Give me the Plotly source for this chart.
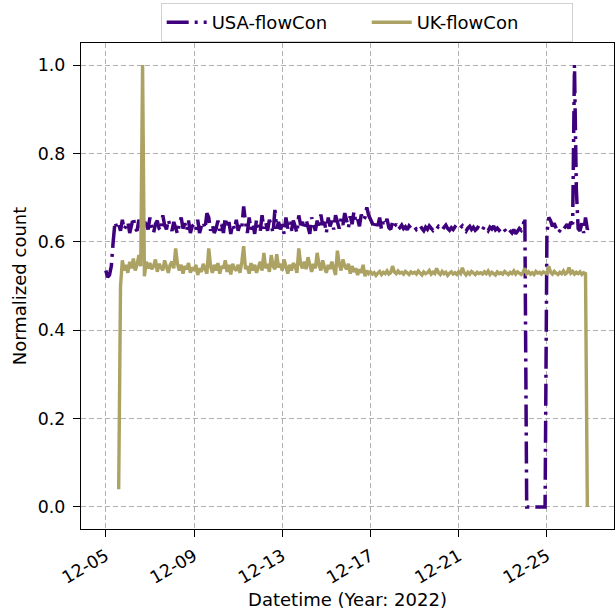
import plotly.graph_objects as go
import pandas as pd

# 2-hourly samples, Dec 5 00:00 .. Dec 26 22:00 (12 values per day)
usa_by_day = {
    "12-05": [0.535, 0.52, 0.525, 0.545, 0.60, 0.645, 0.632, 0.64, 0.625, 0.65, 0.628, 0.638],
    "12-06": [0.645, 0.62, 0.64, 0.655, 0.63, 0.625, 0.65, 0.635, 0.622, 0.645, 0.64, 0.628],
    "12-07": [0.655, 0.632, 0.62, 0.64, 0.648, 0.63, 0.625, 0.66, 0.638, 0.628, 0.65, 0.635],
    "12-08": [0.625, 0.645, 0.632, 0.618, 0.64, 0.655, 0.63, 0.642, 0.625, 0.648, 0.62, 0.635],
    "12-09": [0.64, 0.628, 0.65, 0.62, 0.635, 0.645, 0.63, 0.665, 0.655, 0.625, 0.638, 0.62],
    "12-10": [0.63, 0.648, 0.625, 0.64, 0.62, 0.655, 0.632, 0.645, 0.618, 0.64, 0.628, 0.65],
    "12-11": [0.625, 0.64, 0.632, 0.68, 0.645, 0.62, 0.655, 0.628, 0.642, 0.618, 0.65, 0.635],
    "12-12": [0.622, 0.66, 0.63, 0.645, 0.625, 0.65, 0.638, 0.62, 0.672, 0.63, 0.645, 0.628],
    "12-13": [0.64, 0.618, 0.655, 0.63, 0.645, 0.625, 0.648, 0.635, 0.62, 0.66, 0.638, 0.645],
    "12-14": [0.628, 0.65, 0.632, 0.618, 0.655, 0.64, 0.625, 0.648, 0.63, 0.662, 0.638, 0.645],
    "12-15": [0.62, 0.655, 0.635, 0.648, 0.628, 0.66, 0.642, 0.63, 0.652, 0.638, 0.665, 0.645],
    "12-16": [0.632, 0.658, 0.64, 0.668, 0.645, 0.652, 0.635, 0.662, 0.648, 0.655, 0.678, 0.66],
    "12-17": [0.652, 0.642, 0.63, 0.648, 0.636, 0.655, 0.628, 0.645, 0.638, 0.652, 0.632, 0.628],
    "12-18": [0.645, 0.635, 0.64, 0.628, 0.632, 0.638, 0.63, 0.634, 0.627, 0.636, 0.631, 0.629],
    "12-19": [0.634, 0.628, 0.632, 0.637, 0.63, 0.625, 0.633, 0.628, 0.636, 0.63, 0.626, 0.632],
    "12-20": [0.629, 0.635, 0.631, 0.627, 0.633, 0.638, 0.63, 0.626, 0.632, 0.628, 0.634, 0.63],
    "12-21": [0.627, 0.632, 0.636, 0.629, 0.624, 0.631, 0.635, 0.628, 0.633, 0.626, 0.63, 0.637],
    "12-22": [0.632, 0.628, 0.635, 0.63, 0.625, 0.633, 0.629, 0.636, 0.627, 0.631, 0.626, 0.63],
    "12-23": [0.634, 0.627, 0.623, 0.63, 0.626, 0.62, 0.628, 0.618, 0.624, 0.63, 0.626, 0.636],
    "12-24": [0.655, 0.0, 0.0, 0.0, 0.0, 0.0, 0.0, 0.0, 0.0, 0.0, 0.0, 0.0],
    "12-25": [0.62, 0.655, 0.648, 0.635, 0.642, 0.628, 0.62, 0.625, 0.632, 0.628, 0.636, 0.64],
    "12-26": [0.63, 0.645, 0.64, 1.0, 0.72, 0.63, 0.625, 0.642, 0.62, 0.655, 0.628, 0.635],
}

uk_by_day = {
    "12-05": [None, None, None, None, None, None, None, 0.04, 0.50, 0.558, 0.535, 0.548],
    "12-06": [0.53, 0.555, 0.54, 0.562, 0.535, 0.548, 0.57, 0.545, 1.0, 0.522, 0.555, 0.54],
    "12-07": [0.552, 0.538, 0.545, 0.56, 0.532, 0.55, 0.542, 0.535, 0.558, 0.545, 0.53, 0.548],
    "12-08": [0.555, 0.54, 0.585, 0.55, 0.535, 0.548, 0.528, 0.545, 0.538, 0.552, 0.53, 0.542],
    "12-09": [0.535, 0.548, 0.525, 0.54, 0.532, 0.55, 0.538, 0.528, 0.585, 0.545, 0.53, 0.548],
    "12-10": [0.535, 0.552, 0.528, 0.545, 0.54, 0.558, 0.532, 0.548, 0.526, 0.55, 0.54, 0.535],
    "12-11": [0.548, 0.53, 0.555, 0.59, 0.538, 0.545, 0.528, 0.552, 0.535, 0.548, 0.53, 0.545],
    "12-12": [0.555, 0.535, 0.575, 0.54, 0.55, 0.532, 0.57, 0.545, 0.538, 0.572, 0.542, 0.55],
    "12-13": [0.535, 0.56, 0.54, 0.528, 0.548, 0.535, 0.552, 0.545, 0.53, 0.585, 0.55, 0.54],
    "12-14": [0.555, 0.538, 0.565, 0.545, 0.532, 0.55, 0.54, 0.575, 0.548, 0.535, 0.558, 0.542],
    "12-15": [0.53, 0.548, 0.538, 0.555, 0.542, 0.525, 0.58, 0.55, 0.535, 0.56, 0.545, 0.538],
    "12-16": [0.55, 0.528, 0.545, 0.532, 0.54, 0.525, 0.538, 0.53, 0.548, 0.522, 0.535, 0.528],
    "12-17": [0.532, 0.527, 0.53, 0.524, 0.529, 0.533, 0.526, 0.531, 0.528, 0.534, 0.527, 0.53],
    "12-18": [0.545, 0.532, 0.528, 0.534, 0.529, 0.531, 0.527, 0.533, 0.53, 0.526, 0.532, 0.529],
    "12-19": [0.531, 0.527, 0.534, 0.529, 0.525, 0.532, 0.528, 0.53, 0.535, 0.527, 0.531, 0.528],
    "12-20": [0.54, 0.53, 0.526, 0.533, 0.528, 0.531, 0.524, 0.529, 0.532, 0.527, 0.53, 0.526],
    "12-21": [0.532, 0.528, 0.541, 0.53, 0.525, 0.531, 0.527, 0.533, 0.529, 0.526, 0.531, 0.528],
    "12-22": [0.53, 0.527, 0.532, 0.528, 0.534, 0.526, 0.531, 0.529, 0.525, 0.532, 0.528, 0.53],
    "12-23": [0.527, 0.533, 0.529, 0.526, 0.531, 0.528, 0.534, 0.527, 0.532, 0.529, 0.526, 0.531],
    "12-24": [0.54, 0.528, 0.532, 0.527, 0.53, 0.526, 0.533, 0.529, 0.531, 0.527, 0.532, 0.53],
    "12-25": [0.528, 0.545, 0.531, 0.527, 0.533, 0.529, 0.526, 0.531, 0.528, 0.534, 0.527, 0.53],
    "12-26": [0.542, 0.529, 0.533, 0.527, 0.531, 0.528, 0.532, 0.526, 0.53, 0.528, 0.0, None],
}

x_tick_vals = ["2022-12-05", "2022-12-09", "2022-12-13", "2022-12-17", "2022-12-21", "2022-12-25"]
x_tick_text = ["12-05", "12-09", "12-13", "12-17", "12-21", "12-25"]
y_tick_vals = [0.0, 0.2, 0.4, 0.6, 0.8, 1.0]

usa = [v for d in usa_by_day.values() for v in d]
uk = [v for d in uk_by_day.values() for v in d]
times = pd.date_range("2022-12-05 00:00", periods=len(usa), freq="2h")

USA_COLOR = "#3f007d"
UK_COLOR = "#aca263"

fig = go.Figure()
fig.add_trace(go.Scatter(x=times, y=usa, mode="lines", name="USA-flowCon",
                         line=dict(color=USA_COLOR, width=3.5, dash="22px,6px,3px,6px")))
fig.add_trace(go.Scatter(x=times, y=uk, mode="lines", name="UK-flowCon",
                         line=dict(color=UK_COLOR, width=3.4), connectgaps=False))

axis_common = dict(
    showline=True, linecolor="black", linewidth=1.3, mirror=True,
    ticks="outside", ticklen=7, tickwidth=1.3, tickcolor="black",
    showgrid=True, gridcolor="#b0b0b0", gridwidth=1, griddash="5px,3px",
    zeroline=False, automargin=False,
    tickfont=dict(family="DejaVu Sans", size=17.4, color="black"),
)

fig.update_layout(
    width=615, height=614,
    margin=dict(l=81, r=1, t=43, b=85, autoexpand=False),
    paper_bgcolor="white", plot_bgcolor="white",
    font=dict(family="DejaVu Sans", color="black"),
    showlegend=True,
    legend=dict(orientation="h", x=0.536, xanchor="center",
                yref="container", y=(614 - 3) / 614, yanchor="top",
                bgcolor="white", bordercolor="#d0d0d0", borderwidth=1,
                font=dict(family="DejaVu Sans", size=18, color="black"),
                itemwidth=40, entrywidth=150),
    xaxis=dict(axis_common, range=["2022-12-03 21:00", "2022-12-28 01:00"],
               tickvals=x_tick_vals, ticktext=x_tick_text, tickangle=-30,
               ticklabelstandoff=2,
               title=dict(text="Datetime (Year: 2022)", standoff=6,
                          font=dict(family="DejaVu Sans", size=18, color="black"))),
    yaxis=dict(axis_common, range=[-0.05, 1.05], tickvals=y_tick_vals,
               tickformat=".1f", ticklabelstandoff=4,
               title=dict(text="Normalized count", standoff=6,
                          font=dict(family="DejaVu Sans", size=18, color="black"))),
)

fig.write_html("out.html", config={"displayModeBar": False},
               post_script="document.body.style.margin='0';")
